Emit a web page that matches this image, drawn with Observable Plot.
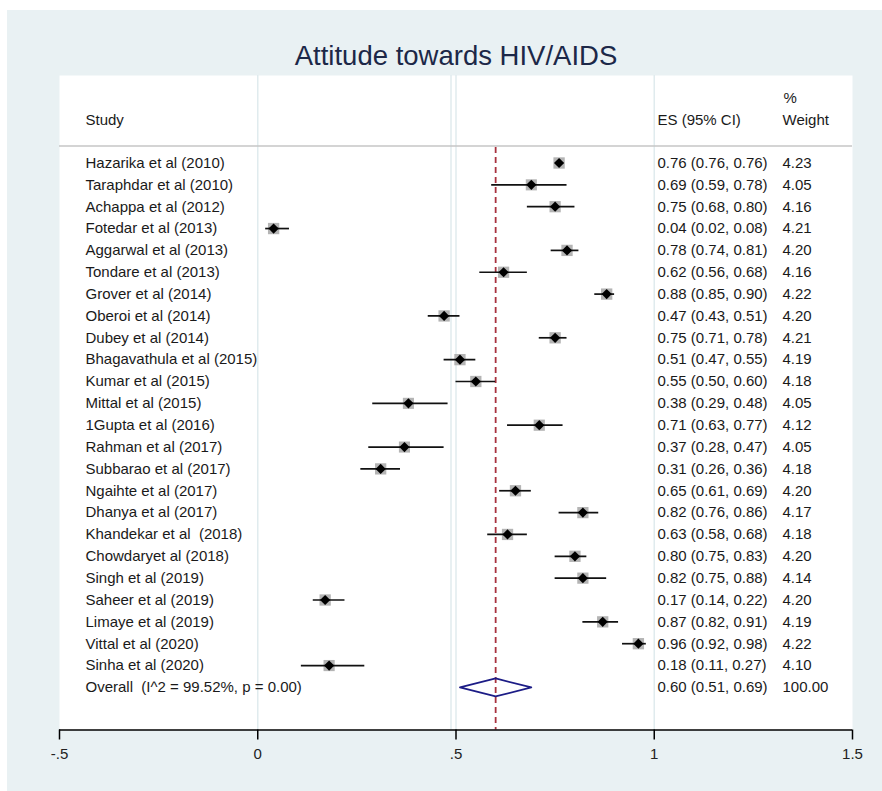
<!DOCTYPE html>
<html><head><meta charset="utf-8">
<script src="https://cdn.jsdelivr.net/npm/d3@7"></script>
<script src="https://cdn.jsdelivr.net/npm/@observablehq/plot@0.6"></script>
<style>
html,body{margin:0;padding:0;background:#fff;}
#chart{position:absolute;left:7px;top:10px;width:875px;height:781px;}
#chart svg{display:block;}
#chart text{white-space:pre;}
</style></head><body><div id="chart"></div>
<script>
// ---- data ----
const studies = [
  "Hazarika et al (2010)", "Taraphdar et al (2010)", "Achappa et al (2012)", "Fotedar et al (2013)",
  "Aggarwal et al (2013)", "Tondare et al (2013)", "Grover et al (2014)", "Oberoi et al (2014)",
  "Dubey et al (2014)", "Bhagavathula et al (2015)", "Kumar et al (2015)", "Mittal et al (2015)",
  "1Gupta et al (2016)", "Rahman et al (2017)", "Subbarao et al (2017)", "Ngaihte et al (2017)",
  "Dhanya et al (2017)", "Khandekar et al  (2018)", "Chowdaryet al (2018)", "Singh et al (2019)",
  "Saheer et al (2019)", "Limaye et al (2019)", "Vittal et al (2020)", "Sinha et al (2020)"
];
const es     = [0.76,0.69,0.75,0.04,0.78,0.62,0.88,0.47,0.75,0.51,0.55,0.38,0.71,0.37,0.31,0.65,0.82,0.63,0.80,0.82,0.17,0.87,0.96,0.18];
const lo     = [0.76,0.59,0.68,0.02,0.74,0.56,0.85,0.43,0.71,0.47,0.50,0.29,0.63,0.28,0.26,0.61,0.76,0.58,0.75,0.75,0.14,0.82,0.92,0.11];
const hi     = [0.76,0.78,0.80,0.08,0.81,0.68,0.90,0.51,0.78,0.55,0.60,0.48,0.77,0.47,0.36,0.69,0.86,0.68,0.83,0.88,0.22,0.91,0.98,0.27];
const weight = [4.23,4.05,4.16,4.21,4.20,4.16,4.22,4.20,4.21,4.19,4.18,4.05,4.12,4.05,4.18,4.20,4.17,4.18,4.20,4.14,4.20,4.19,4.22,4.10];
const overallLabel = "Overall  (I^2 = 99.52%, p = 0.00)";
const overallES = 0.60, overallLo = 0.51, overallHi = 0.69, overallWeight = 100.00;
const xTicks = [-0.5, 0, 0.5, 1, 1.5];
const xTickLabels = ["-.5", "0", ".5", "1", "1.5"];
const gridX = [0, 0.5, 1];
const title = "Attitude towards HIV/AIDS";
const headers = {study: "Study", es: "ES (95% CI)", pct: "%", weight: "Weight"};

// ---- layout ----
const W = 875, H = 781;
const mTop = 65, mBottom = 61.5, mLeft = 52, mRight = 30;
const row0 = 152.5, step = 21.85; // svg px of first row, px per row
const yDomain = [(mTop - row0) / step, (H - mBottom - row0) / step];

const fmt = v => v.toFixed(2);
const rows = studies.map((s, i) => ({
  i, study: s, es: es[i], lo: lo[i], hi: hi[i], w: weight[i],
  esText: `${fmt(es[i])} (${fmt(lo[i])}, ${fmt(hi[i])})`, wText: fmt(weight[i])
}));
const oi = studies.length;
const allRows = [...rows, {i: oi, study: overallLabel,
  esText: `${fmt(overallES)} (${fmt(overallLo)}, ${fmt(overallHi)})`, wText: fmt(overallWeight)}];
const half = 9 / step;
const diamond = [
  {x: overallLo, y: oi}, {x: overallES, y: oi - half}, {x: overallHi, y: oi},
  {x: overallES, y: oi + half}, {x: overallLo, y: oi}
];

const txt = "#1a1a1a";
const chart = Plot.plot({
  width: W, height: H,
  marginTop: mTop, marginBottom: mBottom, marginLeft: mLeft, marginRight: mRight,
  style: {background: "#e9f1f3", fontFamily: "'Liberation Sans', Arial, sans-serif", fontSize: "15px", overflow: "visible"},
  x: {domain: [-0.5, 1.5]},
  y: {domain: yDomain, reverse: true, axis: null},
  r: {range: [0, 6.4]},
  marks: [
    Plot.frame({fill: "white", stroke: null}),
    Plot.ruleX(gridX, {stroke: "#e0ebee", strokeWidth: 1.5}),
    Plot.ruleX([0.5], {dx: -5, stroke: "#e0ebee", strokeWidth: 1.5}),
    Plot.ruleY([0], {dy: -17, stroke: "#c6c6c6", strokeWidth: 1.5}),
    Plot.ruleX([overallES], {stroke: "#a8323f", strokeWidth: 1.8, strokeDasharray: "6,4", insetTop: 72}),
    Plot.dot(rows, {x: "es", y: "i", r: "w", symbol: "square", fill: "#b4b4b4", stroke: null}),
    Plot.ruleY(rows, {y: "i", x1: "lo", x2: "hi", stroke: "#111", strokeWidth: 1.7}),
    Plot.dot(rows, {x: "es", y: "i", r: 4.6, symbol: "diamond2", fill: "#000", stroke: null}),
    Plot.line(diamond, {x: "x", y: "y", stroke: "#1c1c86", strokeWidth: 1.7}),
    Plot.text(allRows, {y: "i", text: "study", frameAnchor: "left", dx: 26, textAnchor: "start", fill: txt}),
    Plot.text(allRows, {y: "i", text: "esText", frameAnchor: "left", dx: 598, textAnchor: "start", fill: txt}),
    Plot.text(allRows, {y: "i", text: "wText", frameAnchor: "left", dx: 723, textAnchor: "start", fill: txt}),
    Plot.text([headers.study], {text: d => d, frameAnchor: "top-left", dx: 26, dy: 44.5, lineAnchor: "middle", textAnchor: "start", fill: txt}),
    Plot.text([headers.es], {text: d => d, frameAnchor: "top-left", dx: 598, dy: 44.5, lineAnchor: "middle", textAnchor: "start", fill: txt}),
    Plot.text([headers.pct], {text: d => d, frameAnchor: "top-left", dx: 724, dy: 22.5, lineAnchor: "middle", textAnchor: "start", fill: txt}),
    Plot.text([headers.weight], {text: d => d, frameAnchor: "top-left", dx: 723, dy: 44.5, lineAnchor: "middle", textAnchor: "start", fill: txt}),
    Plot.text([title], {text: d => d, frameAnchor: "top", dy: -19, lineAnchor: "middle", fontSize: 27.5, fill: "#1c2848"}),
    Plot.ruleY([yDomain[1]], {stroke: "#000", strokeWidth: 1.5}),
    Plot.axisX({ticks: xTicks, tickFormat: d => xTickLabels[xTicks.indexOf(d)], tickSize: 10, tickPadding: 8,
      fontSize: 15, stroke: "#000", strokeWidth: 1.5, fill: "#222", label: null})
  ]
});
document.getElementById("chart").appendChild(chart);
</script>
</body></html>
